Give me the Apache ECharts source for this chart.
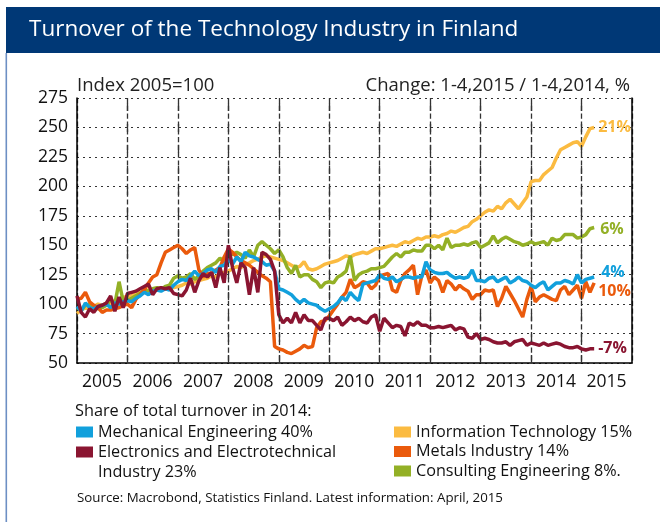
<!DOCTYPE html>
<html>
<head>
<meta charset="utf-8">
<script src="https://cdn.jsdelivr.net/npm/echarts@6/dist/echarts.min.js"></script>
<style>
html, body { margin: 0; padding: 0; background: #fff; }
#chart { width: 660px; height: 522px; }
</style>
</head>
<body>
<div id="chart"></div>
<script>
// monthly index values, Jan 2005 .. Apr 2015 (2005 = 100)
const startYear = 2005;
const endYear = 2016;

const infoTech = [
    92, 95, 97, 96, 98, 100, 99, 101, 100, 103, 104, 106,
    106, 107, 109, 110, 111, 112, 111, 113, 114, 113, 115, 114,
    115, 116, 118, 117, 119, 120, 121, 122, 124, 123, 126, 127,
    128, 130, 132, 131, 134, 135, 137, 138, 140, 141, 140, 139,
    138, 137, 135, 133, 131, 132, 136, 130, 129, 130, 132, 134,
    135, 136, 137, 139, 141, 140, 142, 143, 144, 143, 145, 147,
    147, 148, 149, 150, 149, 151, 153, 152, 154, 156, 155, 157,
    157, 158, 157, 159, 160, 162, 161, 163, 165, 166, 170, 172,
    175, 178, 180, 179, 183, 181, 186, 189, 185, 181, 186, 191,
    204, 205, 205, 210, 213, 216, 224, 231, 233, 235, 237, 238,
    234, 242, 249, 250
];
const consulting = [
    97, 95, 99, 100, 98, 96, 97, 99, 104, 100, 119, 102,
    103, 105, 107, 109, 112, 111, 113, 114, 112, 115, 116, 122,
    124, 122, 123, 126, 121, 124, 128, 131, 133, 135, 139, 136,
    146, 142, 144, 142, 139, 146, 140, 150, 153, 150, 147, 143,
    146, 140, 131, 126, 133, 123, 125, 125, 121, 119, 114, 118,
    119, 118, 123, 125, 128, 141, 120, 125, 127, 128, 130, 130,
    131, 132, 136, 140, 143, 140, 144, 144, 146, 145, 145, 150,
    150, 147, 150, 146, 156, 148, 150, 150, 151, 150, 152, 153,
    148, 150, 152, 158, 152, 155, 157, 155, 153, 152, 150, 151,
    153, 151, 152, 153, 150, 156, 154, 155, 159, 159, 159, 156,
    157, 159, 164, 165
];
const metals = [
    104, 105, 110, 102, 99, 97, 93, 95, 95, 96, 97, 99,
    100, 97, 104, 108, 112, 118, 123, 125, 135, 144, 146, 148,
    150, 147, 143, 146, 148, 129, 123, 126, 126, 129, 131, 140,
    147, 144, 140, 137, 135, 133, 130, 127, 124, 122, 119, 64,
    62, 61, 59, 58, 60, 62, 65, 63, 64, 80, 85, 86,
    90, 95, 100, 106, 110, 121, 114, 116, 119, 118, 113, 116,
    124, 125, 126, 112, 110, 120, 126, 129, 133, 108, 124, 129,
    118, 123, 120, 110, 120, 117, 112, 116, 113, 111, 104, 108,
    108, 112, 111, 112, 98, 105, 115, 109, 103, 96, 89, 104,
    115, 102, 106, 108, 106, 104, 103, 112, 115, 108, 112, 116,
    105, 119, 110, 118
];
const mechanical = [
    98, 94, 101, 97, 96, 98, 99, 100, 97, 101, 100, 102,
    103, 102, 105, 107, 110, 108, 111, 112, 111, 113, 112, 116,
    119, 121, 120, 124, 128, 124, 126, 129, 130, 127, 132, 133,
    138, 134, 140, 136, 144, 141, 140, 138, 136, 133, 134, 128,
    113, 112, 110, 108, 104, 101, 104, 101, 100, 99, 96, 94,
    96, 98, 101, 106, 103, 110, 106, 103, 117, 118, 119, 120,
    125, 122, 121, 123, 119, 121, 123, 123, 122, 123, 123, 136,
    129, 127, 126, 126, 127, 124, 122, 123, 122, 123, 129, 120,
    120, 119, 122, 123, 119, 121, 123, 118, 120, 123, 120, 119,
    116, 114, 117, 119, 112, 115, 118, 118, 120, 119, 117, 125,
    118, 121, 122, 123
];
const electronics = [
    107, 93, 89, 96, 93, 98, 99, 101, 107, 94, 106, 97,
    109, 110, 111, 113, 115, 117, 108, 113, 114, 113, 114, 109,
    108, 107, 112, 122, 110, 120, 126, 123, 127, 114, 131, 118,
    150, 131, 118, 135, 131, 108, 131, 110, 144, 142, 138, 128,
    91, 84, 88, 84, 93, 84, 91, 86, 86, 82, 78, 88,
    88, 86, 89, 82, 85, 89, 86, 88, 85, 84, 89, 91,
    77, 88, 84, 80, 82, 81, 73, 84, 82, 85, 82, 82,
    80, 80, 81, 80, 81, 82, 78, 80, 79, 72, 71, 75,
    70, 71, 70, 68, 67, 67, 68, 65, 68, 69, 70, 65,
    67, 66, 65, 67, 65, 66, 67, 66, 64, 63, 63, 64,
    62, 61, 62, 62
];

// legend text (share of total turnover in 2014)
const shares = {
    'Mechanical Engineering': 'Mechanical Engineering 40%',
    'Electronics and Electrotechnical Industry': '\u00a0\nElectronics and Electrotechnical\nIndustry 23%',
    'Information Technology': 'Information Technology 15%',
    'Metals Industry': 'Metals Industry 14%',
    'Consulting Engineering': 'Consulting Engineering 8%.'
};
const changes = ['21%', '6%', '10%', '4%', '-7%'];

const font = 'Open Sans';

function toPoints(arr) {
    return arr.map((v, i) => [startYear + i / 12, v]);
}

// dashed year boundaries
let yearLines = [];
for (let y = startYear + 1; y < endYear; y++) {
    yearLines.push({ xAxis: y });
}

function makeLine(name, arr, color, change, offset) {
    return {
        name: name,
        type: 'line',
        data: toPoints(arr),
        showSymbol: false,
        lineStyle: { width: 3.5, color: color },
        itemStyle: { color: color },
        endLabel: {
            show: true,
            formatter: change,
            color: color,
            fontFamily: font,
            fontWeight: 'bold',
            fontSize: 16,
            distance: 4,
            offset: offset
        }
    };
}

let itSeries = makeLine('Information Technology', infoTech, '#fbbb41', changes[0], [0, 0]);
itSeries.markLine = {
    silent: true,
    symbol: 'none',
    label: { show: false },
    lineStyle: { type: [8, 13], color: '#333', width: 1.3 },
    emphasis: { disabled: true },
    data: yearLines
};

let myChart = echarts.init(document.getElementById('chart'));
let option = {
    animation: false,
    textStyle: { fontFamily: font },
    graphic: [
        { type: 'rect', shape: { x: 6, y: 7, width: 654, height: 46 }, style: { fill: '#003876' } },
        { type: 'rect', shape: { x: 5.5, y: 53, width: 1.6, height: 469 }, style: { fill: '#6d8fc4' } }
    ],
    title: [
        {
            text: 'Turnover of the Technology Industry in Finland', left: 29, top: 18, padding: 0,
            textStyle: { color: '#fff', fontSize: 22.5, fontWeight: 'normal', fontFamily: font }
        },
        {
            text: 'Index 2005=100', left: 77, top: 76, padding: 0,
            textStyle: { color: '#222', fontSize: 18.5, fontWeight: 'normal', fontFamily: font }
        },
        {
            text: 'Change: 1-4,2015 / 1-4,2014, %', right: 30, top: 76, padding: 0,
            textStyle: { color: '#222', fontSize: 18.5, fontWeight: 'normal', fontFamily: font }
        },
        {
            text: 'Share of total turnover in 2014:', left: 75, top: 403, padding: 0,
            textStyle: { color: '#111', fontSize: 16.3, fontWeight: 'normal', fontFamily: font }
        },
        {
            text: 'Source: Macrobond, Statistics Finland. Latest information: April, 2015', left: 77, top: 492, padding: 0,
            textStyle: { color: '#111', fontSize: 13.3, fontWeight: 'normal', fontFamily: font }
        }
    ],
    legend: [
        {
            left: 76, top: 422, orient: 'vertical', padding: 0,
            itemWidth: 17, itemHeight: 11, itemGap: -20, icon: 'rect',
            data: ['Mechanical Engineering', 'Electronics and Electrotechnical Industry'],
            formatter: name => shares[name],
            textStyle: { fontSize: 16.2, color: '#111', lineHeight: 20, fontFamily: font }
        },
        {
            left: 394, top: 422, orient: 'vertical', padding: 0,
            itemWidth: 17, itemHeight: 11, itemGap: -0.5, icon: 'rect',
            data: ['Information Technology', 'Metals Industry', 'Consulting Engineering'],
            formatter: name => shares[name],
            textStyle: { fontSize: 16.2, color: '#111', lineHeight: 20, fontFamily: font }
        }
    ],
    grid: { left: 77, right: 28, top: 98, bottom: 159 },
    xAxis: {
        type: 'value', min: startYear, max: endYear, interval: 1,
        axisLine: { show: true, lineStyle: { color: '#000', width: 1.5 } },
        axisTick: { show: false },
        axisLabel: {
            color: '#111', fontSize: 17.5, margin: 10, fontFamily: font,
            align: 'left', padding: [0, 0, 0, 5],
            formatter: v => (v < endYear ? String(v) : '')
        },
        splitLine: { show: true, lineStyle: { type: 'dashed', color: '#333', width: 1.3 } }
    },
    yAxis: [
        {
            type: 'value', min: 50, max: 275, interval: 25,
            axisLine: { show: true, lineStyle: { color: '#000', width: 1.5 } },
            axisTick: { show: false },
            axisLabel: { color: '#111', fontSize: 17.5, margin: 9, fontFamily: font },
            splitLine: { lineStyle: { type: [2, 4], color: '#333', width: 1.2 } }
        },
        {
            type: 'value', min: 50, max: 275, interval: 25, position: 'right',
            axisLine: { show: true, lineStyle: { color: '#000', width: 1.5 } },
            axisTick: { show: false }, axisLabel: { show: false }, splitLine: { show: false }
        }
    ],
    series: [
        itSeries,
        makeLine('Consulting Engineering', consulting, '#93b026', changes[1], [2, 2]),
        makeLine('Metals Industry', metals, '#ea5a0c', changes[2], [0, 9]),
        makeLine('Mechanical Engineering', mechanical, '#12a0dc', changes[3], [3, -5]),
        makeLine('Electronics and Electrotechnical Industry', electronics, '#8a1531', changes[4], [0, 0])
    ]
};
myChart.setOption(option);
</script>
</body>
</html>
